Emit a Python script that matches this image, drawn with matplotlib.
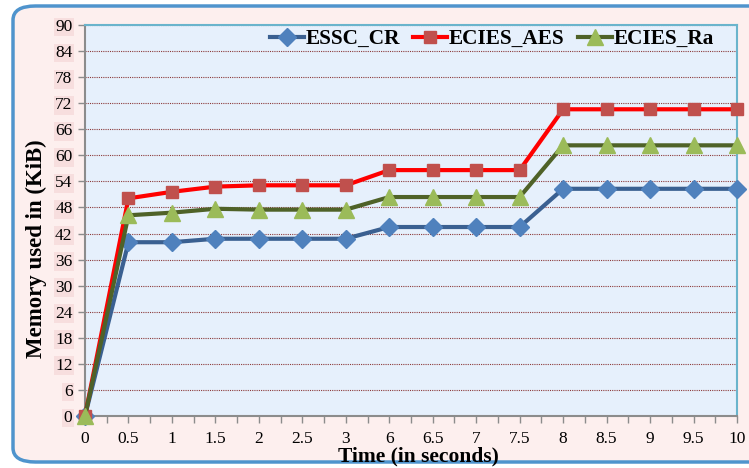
import matplotlib
matplotlib.use("Agg")
import matplotlib.pyplot as plt
from matplotlib.patches import FancyBboxPatch
import numpy as np

times = ["0", "0.5", "1", "1.5", "2", "2.5", "3", "6", "6.5", "7", "7.5", "8", "8.5", "9", "9.5", "10"]
essc_cr = [0, 40.0, 40.0, 40.8, 40.8, 40.8, 40.8, 43.5, 43.5, 43.5, 43.5, 52.3, 52.3, 52.3, 52.3, 52.3]
ecies_aes = [0, 50.1, 51.6, 52.8, 53.1, 53.1, 53.1, 56.6, 56.6, 56.6, 56.6, 70.6, 70.6, 70.6, 70.6, 70.6]
ecies_ra = [0, 46.2, 46.8, 47.7, 47.5, 47.5, 47.5, 50.4, 50.4, 50.4, 50.4, 62.3, 62.3, 62.3, 62.3, 62.3]
yticks = list(range(0, 91, 6))

plt.rcParams['font.family'] = ['Liberation Serif', 'DejaVu Serif']

fig = plt.figure(figsize=(7.49, 4.68), dpi=100)
fig.patch.set_facecolor('white')
frame = FancyBboxPatch((13/749, 6/468), 760/749, 456/468,
                       boxstyle="round,pad=0,rounding_size=0.03",
                       transform=fig.transFigure, facecolor='#fdefee',
                       edgecolor='#4f94cd', linewidth=2.5, zorder=-10)
fig.patches.append(frame)

ax = fig.add_axes([85/749, 1 - 416/468, (737-85)/749, (416-25)/468])
ax.set_facecolor('#e6f0fc')
x = np.arange(len(times))

ax.plot(x, essc_cr, color='#3a6091', lw=3, marker='D', ms=9,
        mfc='#4f81bd', mec='#4f81bd', label='ESSC_CR', zorder=3, clip_on=False)
ax.plot(x, ecies_aes, color='#ff0000', lw=3, marker='s', ms=9,
        mfc='#c0504d', mec='#c0504d', label='ECIES_AES', zorder=4, clip_on=False)
ax.plot(x, ecies_ra, color='#4f6228', lw=3, marker='^', ms=11,
        mfc='#9bbb59', mec='#9bbb59', label='ECIES_Ra', zorder=5, clip_on=False)

ax.set_xlim(0, len(times) - 1)
ax.set_ylim(0, 90)
ax.set_yticks(yticks)
ax.set_xticks(x)
ax.set_xticklabels(times)
ax.set_xticks(x[:-1] + 0.5, minor=True)
ax.yaxis.grid(True, color='#8b3a3a', linestyle=(0, (1, 1)), linewidth=0.8)
ax.set_axisbelow(True)

for s in ['left', 'bottom']:
    ax.spines[s].set_color('#8c8c8c')
    ax.spines[s].set_linewidth(1.5)
for s in ['top', 'right']:
    ax.spines[s].set_color('#6ab4cc')
    ax.spines[s].set_linewidth(1.5)

ax.tick_params(axis='both', which='both', color='#8c8c8c', length=5, width=1)
ax.tick_params(axis='both', labelsize=12.5, pad=4)
ax.tick_params(axis='x', which='major', pad=6)
for lab in ax.get_yticklabels():
    lab.set_bbox(dict(facecolor='#f7dede', edgecolor='none', pad=1))

ax.set_xlabel('Time (in seconds)', fontsize=15.5, fontweight='bold')
ax.xaxis.set_label_coords(0.511, -0.078)
ax.set_ylabel('Memory used in (KiB)', fontsize=16.5, fontweight='bold')
ax.yaxis.set_label_coords(-0.059, 0.427)

leg = ax.legend(loc='center right', bbox_to_anchor=(714/749, 1 - 39/468),
                bbox_transform=fig.transFigure, ncol=3, frameon=False,
                prop={'weight': 'bold', 'size': 15.3}, handlelength=1.6,
                handletextpad=0.1, columnspacing=0.6, borderaxespad=0, borderpad=0)

fig.savefig('out.png', dpi=100)
